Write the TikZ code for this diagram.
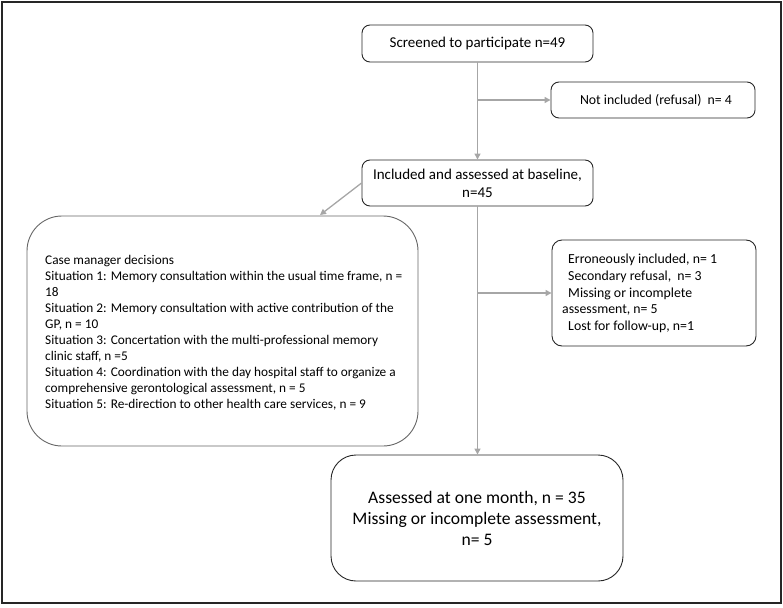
\documentclass[tikz,border=0pt]{standalone}
\usepackage{fontspec}
\setmainfont{Carlito}
\usetikzlibrary{arrows.meta}
\begin{document}
\begin{tikzpicture}[x=1pt,y=-1pt,
  box/.style={draw=black!85, line width=0.9pt, rounded corners=8pt, inner sep=0pt},
  conn/.style={draw=black!35, line width=1.3pt, -{Triangle[length=6pt,width=6pt]}},
  lbl/.style={inner sep=0pt, align=left, anchor=west}]
\useasboundingbox (0,0) rectangle (783,607);
\draw[line width=2pt, black!85] (2,2) rectangle (781,603);
\node[box, minimum width=231pt, minimum height=37pt, font={\fontsize{15}{18}\selectfont}] (scr) at (477.5,43.5)
  {Screened to participate n=49};
\node[box, minimum width=204pt, minimum height=36pt, font={\fontsize{13.8}{16}\selectfont}] (ni) at (653,100)
  {\hspace{6pt}Not included (refusal)\ \ n= 4};
\node[box, minimum width=231pt, minimum height=46pt, align=center, font={\fontsize{15}{18}\selectfont}] (inc) at (477.5,183)
  {Included and assessed at baseline,\\n=45};
\node[box, draw=black!60, rounded corners=35pt, minimum width=391pt, minimum height=230pt] (cm) at (222.5,331) {};
\node[lbl, font={\fontsize{13.3}{16}\selectfont}] (cmt) at (45,333) {%
Case manager decisions\\
Situation 1: Memory consultation within the usual time frame, n =\\
18\\
Situation 2: Memory consultation with active contribution of the\\
GP, n = 10\\
Situation 3: Concertation with the multi-professional memory\\
clinic staff, n =5\\
Situation 4: Coordination with the day hospital staff to organize a\\
comprehensive gerontological assessment, n = 5\\
Situation 5: Re-direction to other health care services, n = 9};
\node[box, rounded corners=10pt, minimum width=204pt, minimum height=106pt] (err) at (654,293) {};
\node[lbl, font={\fontsize{13.8}{16.7}\selectfont}] (errt) at (562,293.5) {%
\hspace{6pt}Erroneously included, n= 1\\
\hspace{6pt}Secondary refusal,\ \ n= 3\\
\hspace{6pt}Missing or incomplete\\
assessment, n= 5\\
\hspace{6pt}Lost for follow-up, n=1};
\node[box, rounded corners=25pt, minimum width=292pt, minimum height=126pt, align=center, font={\fontsize{17.6}{21}\selectfont}] (ass) at (477,518)
  {Assessed at one month, n = 35\\Missing or incomplete assessment,\\n= 5};
\coordinate (b1) at (scr.south |- ni.west);
\coordinate (b2) at (inc.south |- err.west);
\coordinate (cmin) at (320,215);
\draw[conn] (scr.south) -- (inc.north);
\draw[conn] (b1) -- (ni.west);
\draw[conn] (inc.south) -- (inc.south |- ass.north);
\draw[conn] (b2) -- (err.west);
\draw[conn] (inc.west) -- (cmin);
\end{tikzpicture}
\end{document}
